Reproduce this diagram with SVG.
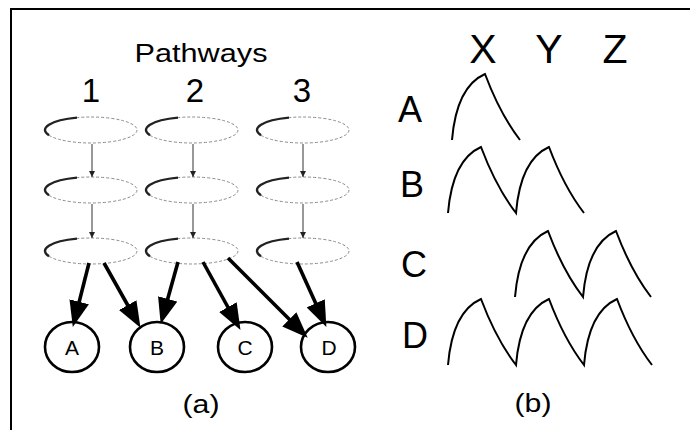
<svg xmlns="http://www.w3.org/2000/svg" xmlns:xlink="http://www.w3.org/1999/xlink" width="690" height="434" viewBox="0 0 690 434">
<style>
text{font-family:"Liberation Sans",Arial,sans-serif;fill:#000;text-anchor:middle}
.frame{stroke:#000;stroke-width:2;fill:none}
.ell{fill:none;stroke:#8a8a8a;stroke-width:1;stroke-dasharray:3 2}
.ellL{fill:none;stroke:#222;stroke-width:2.4}
.thin{stroke:#333;stroke-width:1;fill:none}
.thick{stroke:#000;stroke-width:3.6;fill:none}
.leaf{fill:#fff;stroke:#000;stroke-width:2.6}
.wave{fill:none;stroke:#000;stroke-width:2;stroke-linejoin:miter}
.head{fill:#000}
</style>
<defs>
<g id="ellShape">
<ellipse class="ell" cx="0" cy="0" rx="46" ry="13"/>
<path class="ellL" d="M-14,-12.4 A46,13 0 0 0 -42,5.3"/>
</g>
<marker id="ahS" markerUnits="userSpaceOnUse" markerWidth="8" markerHeight="8" refX="6" refY="3" orient="auto">
<path d="M0,0 L6,3 L0,6 z" fill="#222"/>
</marker>
<marker id="ahL" markerUnits="userSpaceOnUse" viewBox="0 0 26 20" markerWidth="26" markerHeight="20" refX="13" refY="10" orient="auto">
<path class="head" d="M0,0 L26,10 L0,20 z"/>
</marker>
</defs>
<rect width="690" height="434" fill="#fff"/>
<path class="frame" d="M11,430 V9 H690"/>

<text x="201" y="62" font-size="26" textLength="133" lengthAdjust="spacingAndGlyphs">Pathways</text>
<text x="91" y="102" font-size="33">1</text>
<text x="195" y="102" font-size="33">2</text>
<text x="302" y="102" font-size="33">3</text>

<g id="p1n1"><use xlink:href="#ellShape" x="91" y="130"/></g>
<g id="p1n2"><use xlink:href="#ellShape" x="91" y="190"/></g>
<g id="p1n3"><use xlink:href="#ellShape" x="91" y="251"/></g>
<g id="p2n1"><use xlink:href="#ellShape" x="192" y="130"/></g>
<g id="p2n2"><use xlink:href="#ellShape" x="192" y="190"/></g>
<g id="p2n3"><use xlink:href="#ellShape" x="192" y="251"/></g>
<g id="p3n1"><use xlink:href="#ellShape" x="303" y="130"/></g>
<g id="p3n2"><use xlink:href="#ellShape" x="303" y="190"/></g>
<g id="p3n3"><use xlink:href="#ellShape" x="303" y="251"/></g>

<g id="leafA"><ellipse class="leaf" cx="72" cy="347" rx="27" ry="25"/><text x="72" y="355" font-size="21">A</text></g>
<g id="leafB"><ellipse class="leaf" cx="157" cy="347" rx="27" ry="25"/><text x="157" y="355" font-size="21">B</text></g>
<g id="leafC"><ellipse class="leaf" cx="245" cy="347" rx="27" ry="25"/><text x="245" y="355" font-size="21">C</text></g>
<g id="leafD"><ellipse class="leaf" cx="328" cy="347" rx="27" ry="25"/><text x="329" y="355" font-size="21">D</text></g>

<g id="connectors">
<line class="thin" x1="92" y1="144" x2="92" y2="177" marker-end="url(#ahS)"/>
<line class="thin" x1="92" y1="204" x2="92" y2="238" marker-end="url(#ahS)"/>
<line class="thin" x1="193" y1="144" x2="193" y2="177" marker-end="url(#ahS)"/>
<line class="thin" x1="193" y1="204" x2="193" y2="238" marker-end="url(#ahS)"/>
<line class="thin" x1="303" y1="144" x2="303" y2="177" marker-end="url(#ahS)"/>
<line class="thin" x1="303" y1="204" x2="303" y2="238" marker-end="url(#ahS)"/>
<line class="thick" x1="89" y1="263" x2="76" y2="314.4" marker-end="url(#ahL)"/>
<line class="thick" x1="104" y1="263" x2="134.1" y2="316.5" marker-end="url(#ahL)"/>
<line class="thick" x1="178" y1="262" x2="164.2" y2="311.4" marker-end="url(#ahL)"/>
<line class="thick" x1="203" y1="262" x2="234.2" y2="318.5" marker-end="url(#ahL)"/>
<line class="thick" x1="228" y1="258" x2="298.5" y2="328.5" marker-end="url(#ahL)"/>
<line class="thick" x1="297" y1="262" x2="321" y2="315.1" marker-end="url(#ahL)"/>
</g>

<text x="201" y="413" font-size="25" textLength="37" lengthAdjust="spacingAndGlyphs">(a)</text>

<text x="483" y="63" font-size="41">X</text>
<text x="549" y="63" font-size="41">Y</text>
<text x="615" y="63" font-size="41">Z</text>
<text x="410" y="122" font-size="36">A</text>
<text x="412" y="197" font-size="36">B</text>
<text x="414" y="277" font-size="36">C</text>
<text x="415" y="348" font-size="36">D</text>

<path class="wave" d="M452,140 c3,-36 15,-58 33,-66 q15,40 35,66"/>
<path class="wave" d="M448,213 c3,-36 15,-58 33,-66 q15,40 35,66 c3,-36 15,-58 33,-66 q15,40 35,66"/>
<path class="wave" d="M515,297 c3,-36 15,-58 33,-66 q15,40 35,66 c3,-36 15,-58 33,-66 q15,40 35,66"/>
<path class="wave" d="M448,365 c3,-36 15,-58 33,-66 q15,40 35,66 c3,-36 15,-58 33,-66 q15,40 35,66 c3,-36 15,-58 33,-66 q15,40 35,66"/>

<text x="533" y="412" font-size="25" textLength="37" lengthAdjust="spacingAndGlyphs">(b)</text>
</svg>
